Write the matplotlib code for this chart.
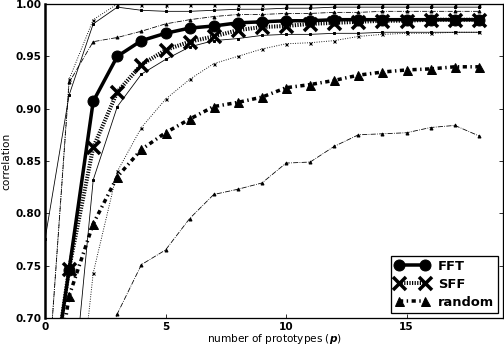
import numpy as np
import matplotlib
matplotlib.use('Agg')
from matplotlib import pyplot as plt

plt.rcParams['font.family'] = 'DejaVu Sans'
plt.rcParams['font.weight'] = 'bold'
plt.rcParams['mathtext.default'] = 'it'

# number of prototypes
n_proto = list(range(0, 19))

# mean correlation per method
fft_mean = [0.59, 0.746, 0.907, 0.950, 0.965, 0.972, 0.977, 0.979, 0.982, 0.983,
            0.984, 0.984, 0.985, 0.985, 0.985, 0.985, 0.985, 0.985, 0.985]
sff_mean = [0.59, 0.747, 0.863, 0.916, 0.942, 0.956, 0.964, 0.969, 0.975, 0.978,
            0.979, 0.981, 0.982, 0.983, 0.984, 0.984, 0.985, 0.985, 0.985]
rand_mean = [0.57, 0.721, 0.790, 0.835, 0.861, 0.877, 0.890, 0.902, 0.906, 0.911,
             0.920, 0.923, 0.927, 0.932, 0.935, 0.937, 0.938, 0.940, 0.940]

# upper / lower envelopes
fft_hi = [0.775, 0.913, 0.981, 0.997, 0.994, 0.993, 0.993, 0.994, 0.995, 0.995,
          0.996, 0.996, 0.997, 0.997, 0.997, 0.997, 0.997, 0.997, 0.997]
fft_lo = [0.40, 0.59, 0.832, 0.902, 0.933, 0.947, 0.959, 0.965, 0.967, 0.970,
          0.971, 0.971, 0.972, 0.972, 0.973, 0.973, 0.973, 0.973, 0.973]
sff_hi = [0.60, 0.928, 0.985, 1.000, 0.9995, 0.9995, 0.9995, 0.9995, 0.9995, 0.9995,
          0.9995, 0.9995, 0.9995, 0.9995, 0.9995, 0.9995, 0.9995, 0.9995, 0.9995]
sff_lo = [0.30, 0.53, 0.743, 0.840, 0.882, 0.909, 0.928, 0.943, 0.950, 0.957,
          0.962, 0.963, 0.965, 0.969, 0.971, 0.972, 0.972, 0.973, 0.973]
rand_hi = [0.60, 0.925, 0.964, 0.968, 0.974, 0.981, 0.985, 0.988, 0.990, 0.990,
           0.991, 0.991, 0.992, 0.992, 0.993, 0.993, 0.993, 0.993, 0.993]
rand_lo = [0.40, 0.55, 0.64, 0.704, 0.751, 0.765, 0.795, 0.818, 0.823, 0.829,
           0.848, 0.849, 0.864, 0.875, 0.876, 0.877, 0.882, 0.884, 0.874]

fig = plt.figure(figsize=(7.0, 346 / 72.0), dpi=72)
ax = fig.add_axes([45 / 504.0, 28 / 346.0, 458 / 504.0, 314 / 346.0])

# thin envelopes
ax.plot(n_proto, fft_hi, '-', color='black', lw=0.8, marker='s', ms=2.5)
ax.plot(n_proto, fft_lo, '-', color='black', lw=0.8, marker='s', ms=2.5)
ax.plot(n_proto, sff_hi, ':', color='black', lw=0.9, marker='x', ms=3)
ax.plot(n_proto, sff_lo, ':', color='black', lw=0.9, marker='x', ms=3)
ax.plot(n_proto, rand_hi, '-.', color='black', lw=0.8, marker='^', ms=3)
ax.plot(n_proto, rand_lo, '-.', color='black', lw=0.8, marker='^', ms=3)

# means
ax.plot(n_proto, rand_mean, color='black', lw=3.5, dashes=(1.2, 1.0, 0.4, 1.0),
        marker='^', ms=9, label='random')
ax.plot(n_proto, sff_mean, color='black', lw=4, dashes=(0.3, 0.35),
        marker='x', ms=13, mew=3.5, label='SFF')
ax.plot(n_proto, fft_mean, '-', color='black', lw=3.5, marker='o', ms=11,
        label='FFT')

ax.set_xlim(0, 19)
ax.set_ylim(0.70, 1.00)
ax.set_xticks([0, 5, 10, 15])
ax.set_yticks([0.70, 0.75, 0.80, 0.85, 0.90, 0.95, 1.00])
ax.set_yticklabels(['%.2f' % v for v in ax.get_yticks()])
ax.tick_params(direction='in', top=True, right=True, length=4, labelsize=10.5)
for s in ax.spines.values():
    s.set_linewidth(1.3)
ax.spines['left'].set_linewidth(2.5)

ax.set_xlabel('number of prototypes ($p$)', fontsize=10.5, labelpad=1)
ax.set_ylabel('correlation', fontsize=10.5, labelpad=4)

h, l = ax.get_legend_handles_labels()
leg = ax.legend(h[::-1], l[::-1], loc='lower right', numpoints=2, fontsize=13,
                fancybox=False, framealpha=1, edgecolor='black',
                handlelength=2.6, borderaxespad=0.4, labelspacing=0.4,
                handletextpad=0.7, borderpad=0.3)
leg.get_frame().set_linewidth(1.3)

fig.savefig('out.png', dpi=72)
